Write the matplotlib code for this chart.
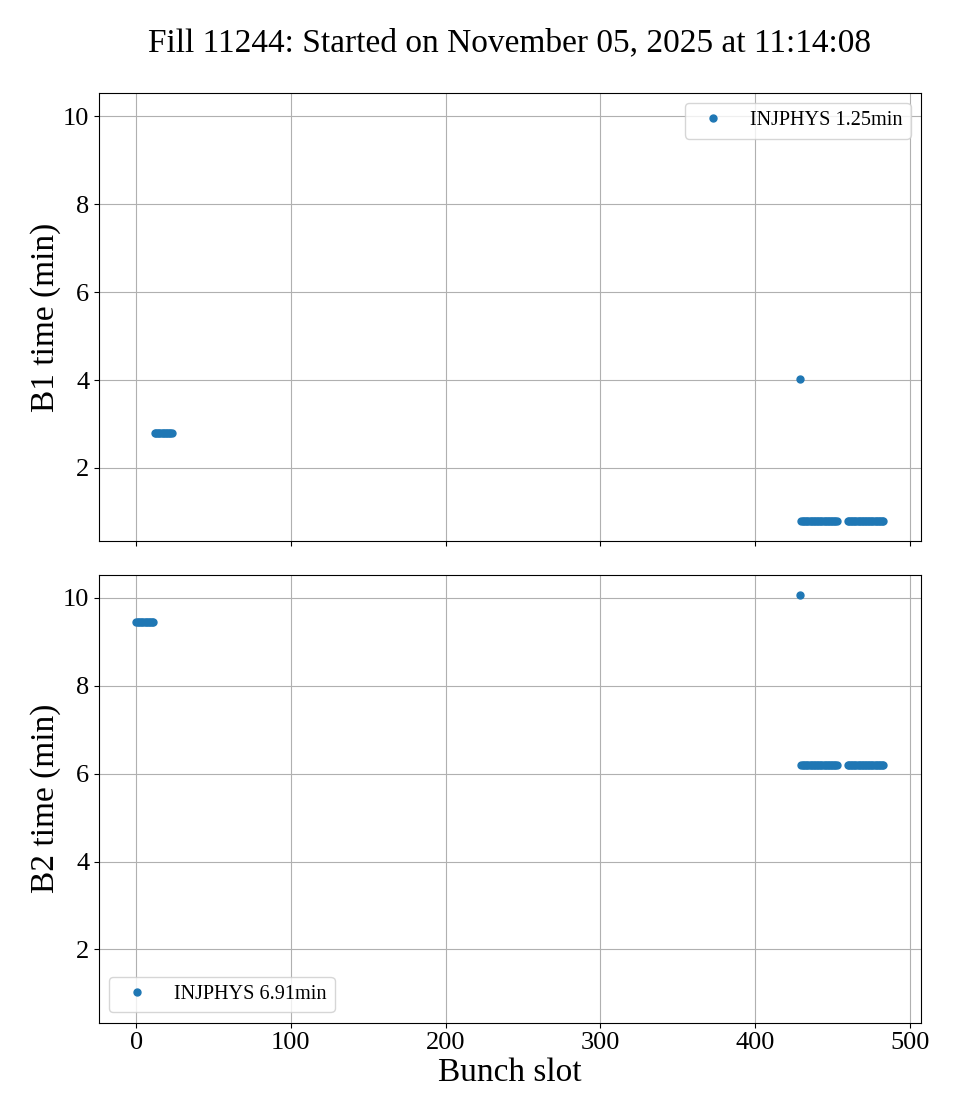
import matplotlib
matplotlib.use("Agg")
import matplotlib.pyplot as plt
import numpy as np

plt.rcParams['font.family'] = ['Liberation Serif', 'DejaVu Serif']
plt.rcParams['mathtext.fontset'] = 'stix'

title = "Fill 11244: Started on November 05, 2025 at 11:14:08"

# B1 data
b1_slots = list(range(12, 24)) + [429] + list(range(430, 454)) + list(range(460, 484))
b1_times = [2.8] * 12 + [4.02] + [0.8] * 24 + [0.8] * 24
b1_label = "INJPHYS 1.25min"

# B2 data
b2_slots = list(range(0, 12)) + [429] + list(range(430, 454)) + list(range(460, 484))
b2_times = [9.45] * 12 + [10.07] + [6.2] * 24 + [6.2] * 24
b2_label = "INJPHYS 6.91min"

fig, (ax1, ax2) = plt.subplots(2, 1, figsize=(9.6, 11.2), dpi=100, sharex=True, sharey=True)
fig.subplots_adjust(left=0.103, right=0.959, top=0.917, bottom=0.087, hspace=0.075)

ax1.plot(b1_slots, b1_times, 'o', color='#1f77b4', markersize=5, label=b1_label)
ax2.plot(b2_slots, b2_times, 'o', color='#1f77b4', markersize=5, label=b2_label)

ax1.set_ylabel("B1 time (min)", fontsize=24, labelpad=1)
ax2.set_ylabel("B2 time (min)", fontsize=24, labelpad=1)
ax2.set_xlabel("Bunch slot", fontsize=24, labelpad=2)
for ax in (ax1, ax2):
    ax.grid(True, color='#b0b0b0', linewidth=0.8)
    ax.tick_params(labelsize=19)
ax1.legend(loc='upper right', fontsize=14.6)
ax2.legend(loc='lower left', fontsize=14.6)
fig.suptitle(title, fontsize=24, x=0.531, y=0.975)

fig.savefig("out.png", dpi=100)
